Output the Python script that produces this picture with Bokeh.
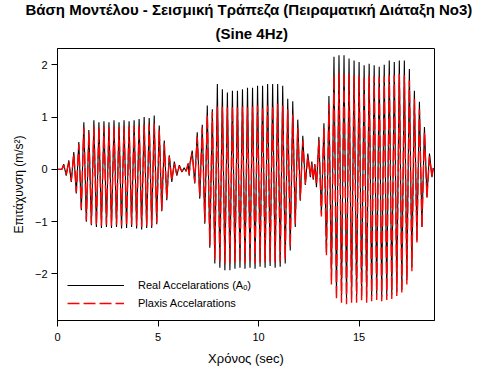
from bokeh.plotting import figure
from bokeh.models import Range1d, FixedTicker, Legend, LegendItem, Title, ColumnDataSource
from bokeh.embed import file_html
from bokeh.resources import INLINE

# ---------------- data ----------------
period = 0.25                       # 4 Hz sine
burst_starts = [0.31, 6.70, 13.00]  # time of first peak in each burst (s)

# burst 1
black_peak_1 = [0.10, 0.17, 0.33, 0.52, 0.90, 0.75, 0.94, 0.90, 0.92, 0.90, 0.94, 0.90,
                0.94, 0.92, 0.94, 0.96, 1.00, 0.98, 1.03, 0.84, 0.55, 0.27, 0.15, 0.08]
black_trough_1 = [-0.12, -0.24, -0.46, -0.78, -1.00, -1.07, -1.10, -1.12, -1.10, -1.12, -1.10, -1.13,
                  -1.12, -1.10, -1.13, -1.15, -1.12, -1.12, -1.05, -0.80, -0.59, -0.24, -0.12, -0.05]
red_peak_1 = [0.08, 0.15, 0.30, 0.48, 0.80, 0.70, 0.82, 0.80, 0.82, 0.80, 0.83, 0.80,
              0.83, 0.82, 0.83, 0.84, 0.86, 0.85, 0.88, 0.75, 0.50, 0.25, 0.12, 0.06]
red_trough_1 = [-0.10, -0.22, -0.44, -0.75, -0.98, -1.05, -1.08, -1.08, -1.06, -1.08, -1.06, -1.08,
                -1.08, -1.06, -1.08, -1.10, -1.08, -1.08, -1.02, -0.78, -0.55, -0.22, -0.10, -0.04]

# burst 2
black_peak_2 = [0.36, 0.71, 0.85, 1.22, 1.15, 1.63, 1.53, 1.47, 1.50, 1.50, 1.53, 1.56,
                1.56, 1.60, 1.60, 1.63, 1.63, 1.63, 1.60, 1.35, 1.30, 0.95, 0.64, 0.30]
black_trough_2 = [-0.27, -0.56, -1.04, -1.50, -1.80, -1.88, -1.93, -1.93, -1.90, -1.88, -1.90, -1.88,
                  -1.90, -1.86, -1.88, -1.85, -1.88, -1.86, -1.80, -1.55, -1.10, -0.60, -0.30, -0.15]
red_peak_2 = [0.30, 0.62, 0.80, 1.05, 1.10, 1.20, 1.20, 1.18, 1.20, 1.18, 1.20, 1.18,
              1.20, 1.22, 1.20, 1.22, 1.22, 1.25, 1.22, 1.15, 1.05, 0.80, 0.55, 0.25]
red_trough_2 = [-0.25, -0.52, -1.00, -1.45, -1.72, -1.78, -1.80, -1.80, -1.78, -1.78, -1.80, -1.78,
                -1.80, -1.78, -1.78, -1.76, -1.78, -1.76, -1.72, -1.50, -1.05, -0.58, -0.28, -0.12]

# burst 3
black_peak_3 = [0.62, 0.88, 1.40, 2.15, 2.18, 2.18, 2.12, 2.08, 2.05, 1.99, 2.02, 1.99,
                1.96, 2.00, 2.08, 2.05, 2.08, 2.08, 1.92, 1.50, 1.29, 0.81, 0.30]
black_trough_3 = [-0.85, -1.60, -2.12, -2.40, -2.45, -2.48, -2.45, -2.45, -2.42, -2.45, -2.42, -2.40,
                  -2.44, -2.42, -2.40, -2.35, -2.30, -2.12, -1.87, -1.36, -1.10, -0.53, -0.15]
red_peak_3 = [0.55, 0.80, 1.25, 1.80, 1.85, 1.85, 1.82, 1.80, 1.80, 1.78, 1.80, 1.78,
              1.76, 1.78, 1.80, 1.80, 1.82, 1.80, 1.70, 1.35, 1.15, 0.72, 0.25]
red_trough_3 = [-0.90, -1.65, -2.20, -2.50, -2.55, -2.58, -2.55, -2.55, -2.52, -2.55, -2.52, -2.50,
                -2.52, -2.50, -2.48, -2.42, -2.38, -2.20, -1.95, -1.40, -1.12, -0.55, -0.15]

# quiet stretches
lead_t = [0.0, 0.22]
lead_black = [0.0, 0.0]
lead_red = [0.0, 0.0]
gap1_t = [6.30, 6.40, 6.50, 6.55, 6.60]
gap1_black = [0.03, -0.04, 0.10, -0.12, 0.15]
gap1_red = [0.02, -0.03, 0.12, -0.10, 0.12]
gap2_t = [12.65, 12.72, 12.80, 12.88]
gap2_black = [0.15, -0.20, 0.10, -0.34]
gap2_red = [0.12, -0.18, 0.08, -0.30]
tail_t = [18.68, 18.75]
tail_black = [0.02, 0.0]
tail_red = [0.01, 0.0]

x_ticks = [0, 5, 10, 15]
y_ticks = [-2, -1, 0, 1, 2]


def burst(start, peaks, troughs):
    t, v = [], []
    for i, (pk, tr) in enumerate(zip(peaks, troughs)):
        t += [start + i * period, start + i * period + period / 2]
        v += [pk, tr]
    return t, v


def series(lead, gap1, gap2, tail, bursts):
    t, v = list(lead_t), list(lead)
    pieces = [(gap1_t, gap1), (gap2_t, gap2), (tail_t, tail)]
    for k, (start, (pk, tr)) in enumerate(zip(burst_starts, bursts)):
        bt, bv = burst(start, pk, tr)
        t += bt
        v += bv
        t += pieces[k][0]
        v += pieces[k][1]
    return t, v


bt, bv = series(lead_black, gap1_black, gap2_black, tail_black,
                [(black_peak_1, black_trough_1), (black_peak_2, black_trough_2), (black_peak_3, black_trough_3)])
rt, rv = series(lead_red, gap1_red, gap2_red, tail_red,
                [(red_peak_1, red_trough_1), (red_peak_2, red_trough_2), (red_peak_3, red_trough_3)])

FONT = "Liberation Sans"

p = figure(frame_width=377, frame_height=272, min_border_left=57, min_border_right=50,
           min_border_top=48, min_border_bottom=50,
           x_range=Range1d(0, 18.75), y_range=Range1d(-2.89, 2.31),
           output_backend="svg", toolbar_location=None, title=None)

p.add_layout(Title(text="(Sine 4Hz)", align="left", text_font=FONT, text_font_size="15px",
                   text_font_style="bold", text_color="black", standoff=9, offset=158,
                   vertical_align="top"), "above")
p.add_layout(Title(text="Βάση Μοντέλου - Σεισμική Τράπεζα (Πειραματική Διάταξη Νο3)", align="left",
                   text_font=FONT, text_font_size="15px", text_font_style="bold",
                   text_color="black", standoff=1, offset=-32, vertical_align="top"), "above")

p.xgrid.visible = False
p.ygrid.visible = False
p.outline_line_color = "black"
p.outline_line_width = 1
p.outline_line_alpha = 1

for ax in (p.xaxis[0], p.yaxis[0]):
    ax.axis_line_color = "black"
    ax.major_tick_line_color = "black"
    ax.major_tick_out = 6
    ax.major_tick_in = 0
    ax.minor_tick_line_color = None
    ax.major_label_text_font = FONT
    ax.major_label_text_font_size = "11px"
    ax.major_label_text_color = "black"
    ax.axis_label_text_font = FONT
    ax.axis_label_text_font_style = "normal"
    ax.axis_label_text_color = "black"

p.xaxis.ticker = FixedTicker(ticks=x_ticks)
p.yaxis.ticker = FixedTicker(ticks=y_ticks)
p.xaxis.axis_label = "Χρόνος (sec)"
p.yaxis.axis_label = "Επιτάχυνση (m/s²)"
p.xaxis.axis_label_text_font_size = "13px"
p.yaxis.axis_label_text_font_size = "12px"
p.xaxis.axis_label_standoff = 7
p.yaxis.axis_label_standoff = 6
p.xaxis.major_label_standoff = 6
p.yaxis.major_label_standoff = 4

src_b = ColumnDataSource(dict(t=bt, v=bv))
src_r = ColumnDataSource(dict(t=rt, v=rv))
rb = p.line("t", "v", source=src_b, line_color="black", line_width=1.1)
rr = p.line("t", "v", source=src_r, line_color="red", line_width=1.4, line_dash="12 4")

legend = Legend(items=[LegendItem(label="Real Accelarations (Aₒ)", renderers=[rb]),
                       LegendItem(label="Plaxis Accelarations", renderers=[rr])],
                location=(10, 8), padding=0, margin=0, spacing=0,
                glyph_width=57, glyph_height=18, label_height=18, label_standoff=14,
                label_text_font=FONT, label_text_font_size="11px", label_text_color="black",
                border_line_color=None, background_fill_alpha=0)
p.add_layout(legend, "center")

open("out.html", "w").write(file_html(p, INLINE))
